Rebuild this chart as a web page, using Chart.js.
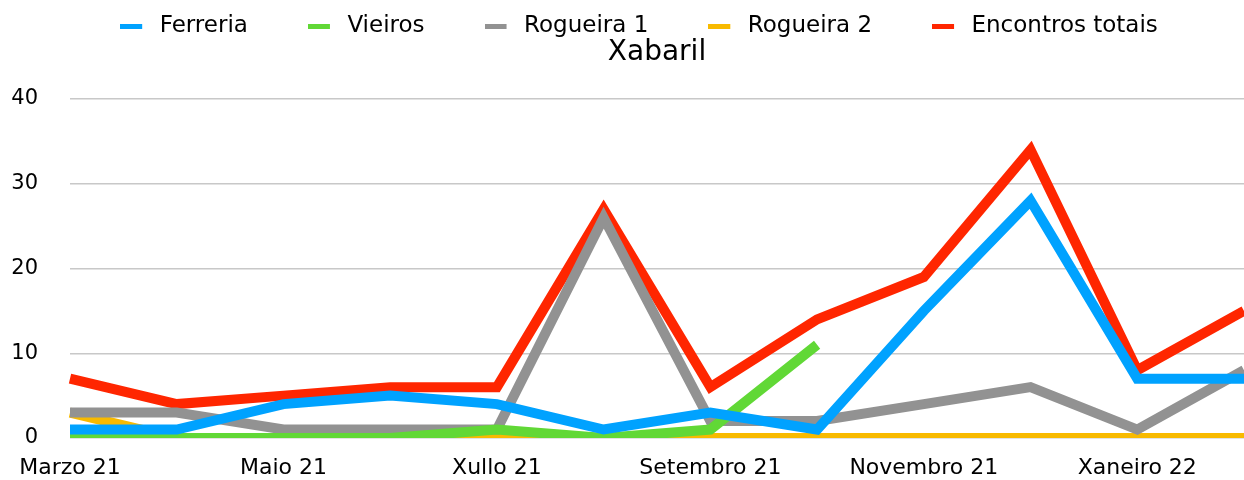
<!DOCTYPE html>
<html>
<head>
<meta charset="utf-8">
<script src="https://cdn.jsdelivr.net/npm/chart.js@4"></script>
<style>
  html, body { margin: 0; padding: 0; background: #ffffff; }
  #wrap { width: 1244px; height: 480px; }
</style>
</head>
<body>
<div id="wrap"><canvas id="c" width="1244" height="480"></canvas></div>
<script>
const categories = ['Marzo 21','Abril 21','Maio 21','Xuño 21','Xullo 21','Agosto 21','Setembro 21','Outubro 21','Novembro 21','Decembro 21','Xaneiro 22','Febreiro 22'];
const ferreria  = [1, 1, 4, 5, 4, 1, 3, 1, 15, 28, 7, 7];
const vieiros   = [0, 0, 0, 0, 1, 0, 1, 11, null, null, null, null];
const rogueira1 = [3, 3, 1, 1, 1, 26, 2, 2, 4, 6, 1, 8];
const rogueira2 = [3, 0, 0, 0, 0.5, 0, 0, 0, 0, 0, 0, 0];
const encontros = [7, 4, 5, 6, 6, 27, 6, 14, 19, 34, 8, 15];
const yTicks = [0, 10, 20, 30, 40];
const seriesNames = ['Ferreria', 'Vieiros', 'Rogueira 1', 'Rogueira 2', 'Encontros totais'];
const seriesColors = ['#00A2FF', '#61D836', '#929292', '#F8BA00', '#FF2600'];
const titleText = 'Xabaril';

const FONT = "'DejaVu Sans', sans-serif";
const LEGEND_FONT = 23;

function dashImage(color) {
  const c = document.createElement('canvas');
  c.width = 28; c.height = 5;
  const g = c.getContext('2d');
  g.fillStyle = color;
  g.fillRect(0, 0, 22, 5);
  return c;
}
const dashes = seriesColors.map(dashImage);

const titlePlugin = {
  id: 'floatTitle',
  afterDraw(chart) {
    const ctx = chart.ctx;
    const a = chart.chartArea;
    ctx.save();
    ctx.font = '28px ' + FONT;
    ctx.fillStyle = '#000';
    ctx.textAlign = 'center';
    ctx.textBaseline = 'middle';
    ctx.fillText(titleText, (a.left + a.right) / 2, 53);
    ctx.restore();
  }
};

const legendTweak = {
  id: 'legendTweak',
  beforeInit(chart) {
    const lg = chart.legend;
    const origFit = lg.fit;
    lg.fit = function () {
      origFit.call(this);
      this.height = 144;
    };
    const origDraw = lg.draw;
    lg.draw = function () {
      const ctx = this.ctx;
      ctx.save();
      ctx.translate(17, 0);
      origDraw.call(this);
      ctx.restore();
    };
  }
};

const datasets = [ferreria, vieiros, rogueira1, rogueira2, encontros].map((d, i) => ({
  label: seriesNames[i],
  data: d,
  borderColor: seriesColors[i],
  backgroundColor: seriesColors[i],
  borderWidth: 10,
  pointRadius: 0,
  pointHoverRadius: 0,
  tension: 0,
  fill: false,
  spanGaps: false
}));

new Chart(document.getElementById('c'), {
  type: 'line',
  data: { labels: categories, datasets },
  options: {
    responsive: false,
    animation: false,
    layout: { padding: { top: -45, left: 0, right: 0, bottom: 0 } },
    plugins: {
      title: { display: false },
      tooltip: { enabled: false },
      legend: {
        position: 'top',
        align: 'center',
        labels: {
          font: { family: FONT, size: LEGEND_FONT },
          color: '#000',
          usePointStyle: true,
          pointStyleWidth: 28,
          boxHeight: 5,
          padding: 60,
          generateLabels(chart) {
            return chart.data.datasets.map((ds, i) => ({
              text: ds.label,
              fillStyle: ds.borderColor,
              strokeStyle: ds.borderColor,
              lineWidth: 0,
              pointStyle: dashes[i],
              fontColor: '#000',
              hidden: false,
              datasetIndex: i
            }));
          }
        }
      }
    },
    scales: {
      x: {
        offset: false,
        afterFit(scale) { scale.paddingLeft = 0; scale.paddingRight = 0; scale.height = 42; },
        grid: { display: false, drawTicks: false },
        border: { display: false },
        ticks: {
          autoSkip: false,
          maxRotation: 0,
          minRotation: 0,
          padding: 17,
          color: '#000',
          font: { family: FONT, size: 22 },
          callback: (v, i) => (i % 2 === 0 ? categories[i] : '')
        }
      },
      y: {
        min: 0,
        max: 40,
        afterFit(scale) { scale.width = 70; scale.paddingTop = 0; scale.paddingBottom = 0; },
        afterBuildTicks(scale) { scale.ticks = yTicks.map(v => ({ value: v })); },
        grid: { color: '#c8c8c8', lineWidth: 1.5, drawTicks: false },
        border: { display: false },
        ticks: {
          padding: 32,
          color: '#000',
          font: { family: FONT, size: 21 }
        }
      }
    }
  },
  plugins: [legendTweak, titlePlugin]
});
</script>
</body>
</html>
